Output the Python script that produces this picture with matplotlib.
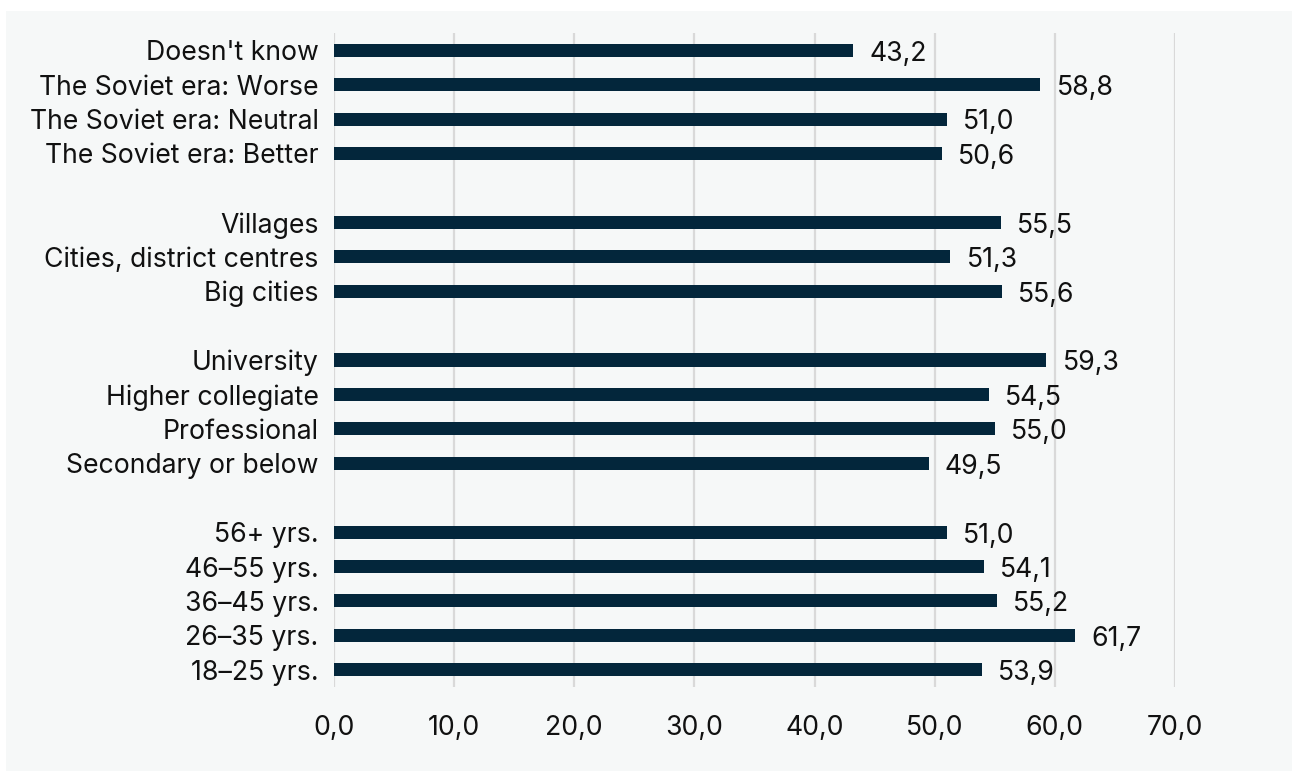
import matplotlib
matplotlib.use("Agg")
import matplotlib.pyplot as plt
from matplotlib.patches import Rectangle

plt.rcParams['font.family'] = ['Inter', 'DejaVu Sans']

# groups of bars, top to bottom
soviet_labels = ["Doesn't know", "The Soviet era: Worse", "The Soviet era: Neutral", "The Soviet era: Better"]
soviet_values = [43.2, 58.8, 51.0, 50.6]

settlement_labels = ["Villages", "Cities, district centres", "Big cities"]
settlement_values = [55.5, 51.3, 55.6]

education_labels = ["University", "Higher collegiate", "Professional", "Secondary or below"]
education_values = [59.3, 54.5, 55.0, 49.5]

age_labels = ["56+ yrs.", "46\u201355 yrs.", "36\u201345 yrs.", "26\u201335 yrs.", "18\u201325 yrs."]
age_values = [51.0, 54.1, 55.2, 61.7, 53.9]

x_ticks = [0, 10, 20, 30, 40, 50, 60, 70]

groups = [(soviet_labels, soviet_values), (settlement_labels, settlement_values),
          (education_labels, education_values), (age_labels, age_values)]

bar_color = '#03263b'
panel_color = '#f6f8f8'
fs = 19.2

fig = plt.figure(figsize=(12.92, 7.71), dpi=100, facecolor='white')
# grey panel behind everything, leaving a thin white margin at top and left
fig.add_artist(Rectangle((6 / 1292, 0), 1, 760 / 771, transform=fig.transFigure,
                         facecolor=panel_color, edgecolor='none', zorder=-10))
ax = fig.add_axes([334 / 1292, 1 - 687 / 771, 841 / 1292, 654 / 771])
ax.set_facecolor(panel_color)

# lay the groups out with one empty row between them
pos = []
labels = []
values = []
row = 0
for i, (lab, val) in enumerate(groups):
    if i > 0:
        row += 1
    for l, v in zip(lab, val):
        pos.append(row)
        labels.append(l)
        values.append(v)
        row += 1

ax.barh(pos, values, height=0.38, color=bar_color, zorder=3)
for p, v in zip(pos, values):
    ax.text(v + 1.35, p + 0.1, f"{v:.1f}".replace('.', ','), va='center', ha='left',
            fontsize=fs, color='#111111', zorder=4)

ax.set_ylim(row - 0.5, -0.5)
ax.set_yticks(pos)
ax.set_yticklabels(labels)
ax.set_xlim(0, 70)
ax.set_xticks(x_ticks)
ax.set_xticklabels([f"{t:.1f}".replace('.', ',') for t in x_ticks])
ax.tick_params(axis='both', length=0, labelsize=fs, colors='#111111')
ax.tick_params(axis='y', pad=11)
ax.tick_params(axis='x', pad=20)
ax.grid(axis='x', color='#d9d9d9', linewidth=1.6, zorder=0)
ax.set_axisbelow(True)
for s in ax.spines.values():
    s.set_visible(False)

fig.savefig('out.png', dpi=100, facecolor='white')
